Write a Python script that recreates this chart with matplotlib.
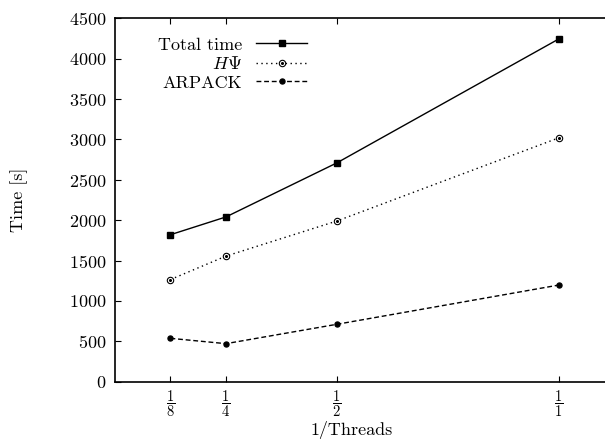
import matplotlib
matplotlib.use('Agg')
import matplotlib.pyplot as plt
from matplotlib.legend_handler import HandlerTuple

plt.rcParams['font.family'] = 'serif'
plt.rcParams['font.serif'] = ['cmr10', 'DejaVu Serif']
plt.rcParams['mathtext.fontset'] = 'cm'
plt.rcParams['axes.formatter.use_mathtext'] = True
plt.rcParams['font.size'] = 13

# 1/threads and measured times
inv_threads = [1/8, 1/4, 1/2, 1]
tick_labels = [r'$\dfrac{1}{8}$', r'$\dfrac{1}{4}$', r'$\dfrac{1}{2}$', r'$\dfrac{1}{1}$']
total_time = [1820, 2040, 2710, 4245]
hpsi_time = [1265, 1555, 1990, 3020]
arpack_time = [537, 471, 711, 1197]

fig = plt.figure(figsize=(6.05, 4.4), dpi=100)
ax = fig.add_axes([0.190, 0.1325, 0.844, 0.826])

l_total, = ax.plot(inv_threads, total_time, color='black', lw=1.0, marker='s', ms=4.5)
l_hpsi, = ax.plot(inv_threads, hpsi_time, color='black', lw=1.0, ls=(0, (1, 2.5)),
                  marker='o', ms=4.6, mfc='white', mew=0.8)
# small dot in the middle of each open circle
d_hpsi, = ax.plot(inv_threads, hpsi_time, ls='none', marker='o', ms=1.2, color='black')
l_arpack, = ax.plot(inv_threads, arpack_time, color='black', lw=1.0, ls=(0, (3.5, 2)),
                    marker='o', ms=3.6)

ax.set_xlim(0, 1.15)
ax.set_ylim(0, 4500)
ax.set_xticks(inv_threads)
ax.set_xticklabels(tick_labels, fontsize=10.5)
ax.set_yticks(range(0, 4501, 500))

ax.tick_params(direction='in', length=4, width=0.8, top=True, right=False)
ax.tick_params(axis='x', pad=5)
ax.tick_params(axis='y', pad=6)
for s in ax.spines.values():
    s.set_linewidth(1.2)

ax.set_xlabel('1/Threads')
ax.set_ylabel('Time [s]')
ax.xaxis.set_label_coords(0.4636, -0.108)
ax.yaxis.set_label_coords(-0.170, 0.5)

ax.legend([l_total, (l_hpsi, d_hpsi), l_arpack], ['Total time', r'$H\Psi$', 'ARPACK'],
          handler_map={tuple: HandlerTuple(ndivide=1, pad=0)},
          loc='upper right', bbox_to_anchor=(316 / 605, 1 - 28 / 440),
          bbox_transform=fig.transFigure, markerfirst=False, frameon=False,
          borderpad=0, handlelength=2.8, handletextpad=0.8, labelspacing=0.15)

fig.savefig('out.png', dpi=100)
